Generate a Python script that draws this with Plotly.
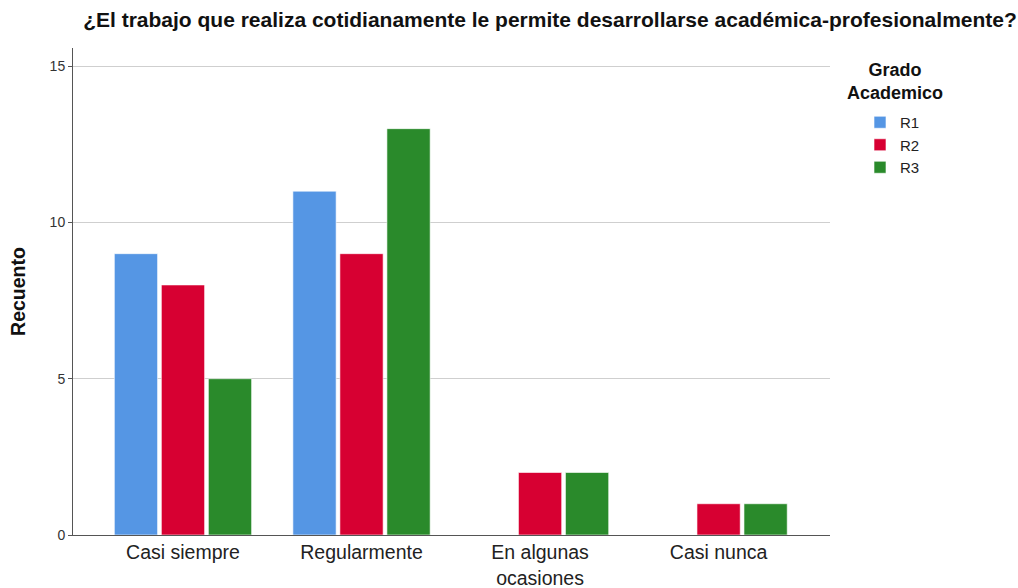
import plotly.graph_objects as go

categories = ["Casi siempre", "Regularmente", "En algunas<br>ocasiones", "Casi nunca"]
series_names = ["R1", "R2", "R3"]
r1 = [9, 11, None, None]
r2 = [8, 9, 2, 1]
r3 = [5, 13, 2, 1]
colors = ["#5596E4", "#D70032", "#2A8A2B"]

W, H = 1018, 588
PL, PR, PT, PB = 73, 830, 48, 535  # plot area in window pixels
PW, PH = PR - PL, PB - PT

fig = go.Figure()
for name, vals, c in zip(series_names, [r1, r2, r3], colors):
    fig.add_trace(go.Bar(
        x=list(range(len(categories))), y=vals, name=name,
        marker=dict(color=c, line=dict(color="rgba(255,255,255,0.6)", width=1)),
    ))

fig.update_layout(
    width=W, height=H,
    paper_bgcolor="white", plot_bgcolor="white",
    margin=dict(l=PL, r=W - PR, t=PT, b=H - PB, autoexpand=False),
    barmode="group", bargap=0.21, bargroupgap=0.08,
    font=dict(family="Liberation Sans, Arial, sans-serif", color="#222"),
    title=dict(text="<b>¿El trabajo que realiza cotidianamente le permite desarrollarse académica-profesionalmente?</b>",
               x=550 / W, xanchor="center", y=1 - 20 / H, yanchor="middle",
               font=dict(size=21, color="#111")),
    xaxis=dict(tickmode="array", tickvals=list(range(len(categories))), ticktext=categories,
               range=[-0.616, 3.624], showgrid=False, zeroline=False, automargin=False,
               showline=True, linecolor="#555", linewidth=1,
               ticks="", tickfont=dict(size=19.5, color="#222")),
    yaxis=dict(range=[0, 15.58], tickvals=[0, 5, 10, 15], showgrid=True, gridcolor="#CFCFCF",
               gridwidth=1, zeroline=False, showline=True, linecolor="#555", linewidth=1,
               automargin=False,
               ticks="outside", ticklen=4, tickcolor="#555",
               tickfont=dict(size=14, color="#333"),
               title=dict(text="<b>Recuento</b>", font=dict(size=19.5, color="#111"), standoff=18)),
    legend=dict(x=1.0 + (860 - PR) / PW, xanchor="left", y=1.0 - (106 - PT) / PH, yanchor="top",
                font=dict(size=15, color="#222"), itemwidth=30, tracegroupgap=0,
                bgcolor="rgba(0,0,0,0)"),
    showlegend=True,
)

fig.add_annotation(
    text="<b>Grado<br>Academico</b>", xref="paper", yref="paper",
    x=1.0 + (895 - PR) / PW, y=1.0 + (PT - 81) / PH, xanchor="center", yanchor="middle",
    showarrow=False, align="center", font=dict(size=18, color="#111"),
)

fig.write_html(
    "out.html",
    config={"displayModeBar": False},
    post_script="document.body.style.margin='0';document.body.style.overflow='hidden';",
)
